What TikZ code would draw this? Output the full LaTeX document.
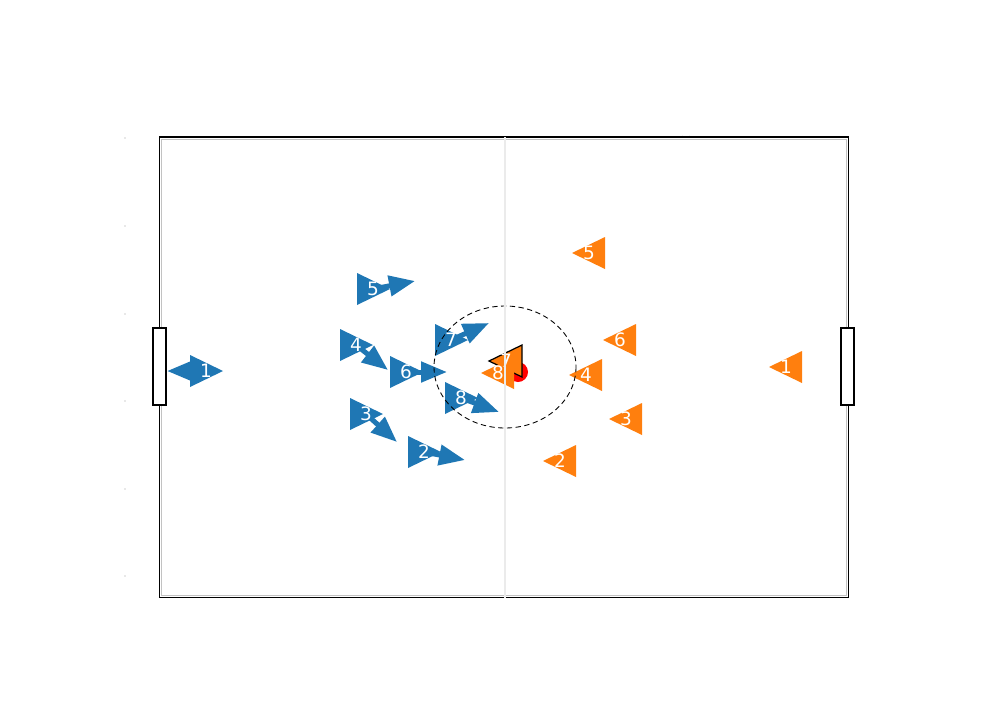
\documentclass[tikz,border=0pt]{standalone}
\usepackage{fontspec}
\setmainfont{DejaVu Sans}
\definecolor{HomeBlue}{HTML}{1F77B4}
\definecolor{AwayOrange}{HTML}{FF7F0E}
\definecolor{LineGrey}{HTML}{9A9A9A}
\usetikzlibrary{arrows.meta}

\begin{document}
\begin{tikzpicture}[
      x=0.02cm, y=-0.02cm,
      pitch/.style={draw=black, line width=0.6pt},
      goalbox/.style={draw=black, fill=white, line width=0.8pt},
      homeP/.style={fill=HomeBlue},
      awayP/.style={fill=AwayOrange},
      awayKey/.style={fill=AwayOrange, draw=black, line width=0.7pt, line join=miter},
      num/.style={text=white, inner sep=0pt, font=\fontsize{10.5}{12}\selectfont},
      vel/.style={HomeBlue, line width=0.1cm,
        -{Triangle[length=0.52cm, width=0.4cm]}},
      ball/.style={circle, fill=red, inner sep=0pt, minimum size=0.4cm}
    ]
      \useasboundingbox (0,0) rectangle (1000,700);
      % axis dots
      \foreach \ty in {138,226,314,401,489,576}
        \fill[LineGrey] (125,\ty) circle (0.6);
      % pitch
      \draw[LineGrey!60, line width=0.5pt] (161.5,139) rectangle (846.5,595.5);
      \draw[pitch] (159.5,137) rectangle (848.5,597.5);
      \draw[black, line width=0.4pt] (682,135.5) -- (682,137) (689,135.5) -- (689,137);
      \node[goalbox, minimum width=0.26cm, minimum height=1.54cm] (gl) at (159.5,366.5) {};
      \node[goalbox, minimum width=0.26cm, minimum height=1.54cm] (gr) at (847.5,366.5) {};
      % ball
      \node[ball] (bl) at (518,372) {};
      % home team
      \foreach \n/\x/\y/\vx/\vy in {1/206/371/167/371, 2/424/452/465/460,
          3/366/414/397/442, 4/356/345/388/370, 5/373/289/415/281,
          6/406/372/447/372, 7/451/340/489/323, 8/461/398/499/412} {
        \coordinate (b\n) at (\x,\y);
        \coordinate (bv\n) at (\vx,\vy);
        \path[homeP] (\x-16,\y-16) -- (\x+17,\y) -- (\x-16,\y+16) -- cycle;
        \draw[vel] (b\n) -- (bv\n);
      }
      % away team
      \foreach \n/\x/\y/\s in {1/786/367/awayP, 2/560/461/awayP,
          3/626/419/awayP, 4/586/375/awayP, 5/589/253/awayP,
          6/620/340/awayP, 7/506/361/awayKey, 8/498/373/awayP} {
        \coordinate (o\n) at (\x,\y);
        \path[\s] (\x+16,\y-16) -- (\x-17,\y) -- (\x+16,\y+16) -- cycle;
      }
      % shirt numbers
      \foreach \n in {1,...,8} {
        \node[num] (bn\n) at (b\n) {\n};
        \node[num] (on\n) at (o\n) {\n};
      }
      % centre circle and halfway line
      \draw[black, line width=0.5pt, densely dashed] (505,367) ellipse (71 and 61);
      \draw[black!8, line width=1.2pt] (505,137) -- (505,597.5);
    \end{tikzpicture}
\end{document}
